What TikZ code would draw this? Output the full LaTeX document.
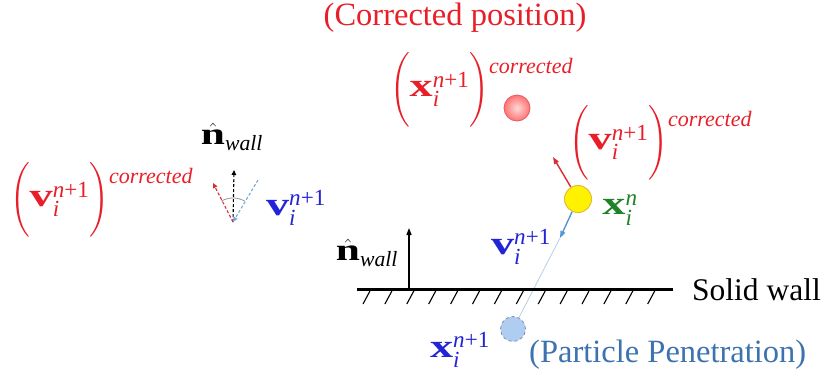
\documentclass[tikz,border=0pt]{standalone}
\usepackage{fontspec}
\usepackage{amsmath}
\setmainfont{Liberation Serif}
\usetikzlibrary{arrows.meta}
\definecolor{cred}{RGB}{232,30,40}
\definecolor{cblue}{RGB}{35,35,215}
\definecolor{csteel}{RGB}{60,115,175}
\definecolor{cgreen}{RGB}{30,130,40}
\definecolor{aredc}{RGB}{215,45,50}
\definecolor{abluec}{RGB}{85,150,210}
\definecolor{lineblue}{RGB}{185,205,232}
\definecolor{ydraw}{RGB}{225,190,50}
\definecolor{yfill}{RGB}{255,242,0}
\definecolor{pfill}{RGB}{175,205,240}
\definecolor{pdraw}{RGB}{120,140,170}
\definecolor{rdraw}{RGB}{228,90,95}
\newcommand{\bsym}[1]{\scalebox{1.4}[1]{\textbf{#1}}}
\newcommand{\qv}[3]{\bsym{#1}_{\textit{#2}}^{#3}}
\newcommand{\npo}{\textit{n}\textrm{+1}}
\newcommand{\corr}{\raisebox{23pt}{\fontsize{22}{26}\selectfont\itshape corrected}}
\begin{document}
\begin{tikzpicture}[x=1pt,y=-1pt,
  lbl/.style={inner sep=0pt,outer sep=0pt},
  bigm/.style={font=\fontsize{33}{40}\selectfont},
  midm/.style={font=\fontsize{31}{36}\selectfont},
  txt/.style={inner sep=0pt,font=\fontsize{32.5}{38}\selectfont},
  tip/.style={-{Triangle[length=7pt,width=5pt]}},
  smalltip/.style={-{Triangle[length=5pt,width=4.5pt]}},
  hatch/.style={line width=1.1pt},
  wallline/.style={line width=3pt}]
\useasboundingbox (0,0) rectangle (827,381);

% titles
\node[txt,text=cred] (title) at (455,18) {(Corrected position)};
\node[txt,text=csteel,anchor=west] (pen) at (529,355) {(Particle Penetration)};
\node[txt,anchor=west,font=\fontsize{31.5}{36}\selectfont] (solid) at (692,290) {Solid wall};

% left expression
\node[lbl,bigm,text=cred,anchor=west] (vcl) at (10,200) {$\Bigg(\qv{v}{i}{\npo}\Bigg)$\corr};
\node[lbl,midm] (nwt) at (232,137) {$\hat{\bsym{n}}_{\textit{wall}}$};
\node[lbl,bigm,text=cblue] (vbl) at (296,208) {$\qv{v}{i}{\npo}$};

% glyph
\coordinate (O) at (233,222);
\coordinate (gn) at (234,170);
\coordinate (gr) at (213,183);
\coordinate (gb) at (258,180);
\draw[gray!80,line width=0.8pt] ([shift={(O)}]-119:24) arc[start angle=-119,end angle=-60,radius=24];
\draw[black,dashed,line width=1.1pt,smalltip,dash pattern=on 3pt off 2pt] (O) -- (gn);
\draw[aredc,dashed,line width=1.1pt,smalltip,dash pattern=on 3pt off 2pt] (O) -- (gr);
\draw[abluec!80,dashed,line width=1.1pt,smalltip,dash pattern=on 3pt off 2pt] (gb) -- (O);

% right side
\node[lbl,bigm,text=cred,anchor=west] (xcr) at (390,90) {$\Bigg(\qv{x}{i}{\npo}\Bigg)$\corr};
\node[circle,minimum size=26pt,inner sep=0pt,draw=rdraw,line width=0.8pt,inner color=red!15,outer color=red!55] (rc) at (517,108) {};
\node[lbl,bigm,text=cred,anchor=west] (vcr) at (569,143) {$\Bigg(\qv{v}{i}{\npo}\Bigg)$\corr};

\node[circle,minimum size=27pt,inner sep=0pt,draw=ydraw,line width=1pt,fill=yfill] (yc) at (578,199) {};
\node[lbl,bigm,text=cgreen] (xg) at (620,210) {$\qv{x}{i}{\textit{n}}$};
\coordinate (rt) at (553,157);
\coordinate (bt) at (560,238);
\draw[aredc,line width=1.4pt,tip] (yc.121) -- (rt);
\draw[abluec,line width=1.4pt,tip] (yc.-115) -- (bt);

\node[circle,minimum size=25pt,inner sep=0pt,draw=pdraw,dashed,line width=0.8pt,fill=pfill] (pc) at (513,329) {};
\draw[lineblue,line width=0.8pt] (bt) -- (pc);

\node[lbl,bigm,text=cblue] (vbm) at (521,247) {$\qv{v}{i}{\npo}$};
\node[lbl,midm] (nwb) at (367,253) {$\hat{\bsym{n}}_{\textit{wall}}$};
\node[lbl,bigm,text=cblue] (xb) at (460,350) {$\qv{x}{i}{\npo}$};

% wall
\coordinate (w1) at (357,289);
\coordinate (w2) at (673,289);
\draw[wallline] (w1) -- (w2);
\foreach \k in {0,...,13} \draw[hatch] ({370+21.9*\k},291) -- ++(-7,13);
\coordinate (nb) at (409,289);
\coordinate (nt) at (409,228);
\draw[line width=1.3pt,tip] (nb) -- (nt);
\end{tikzpicture}
\end{document}
